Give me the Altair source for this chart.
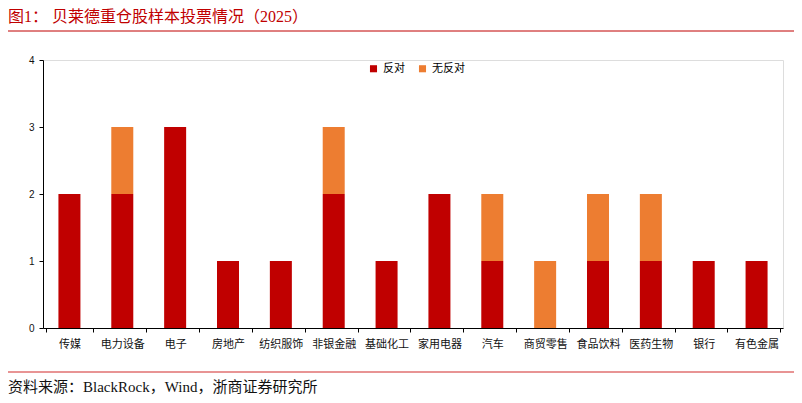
import altair as alt
import pandas as pd

# 数据
categories = ["传媒", "电力设备", "电子", "房地产", "纺织服饰", "非银金融", "基础化工",
              "家用电器", "汽车", "商贸零售", "食品饮料", "医药生物", "银行", "有色金属"]
oppose = [2, 2, 3, 1, 1, 2, 1, 2, 1, 0, 1, 1, 1, 1]
no_oppose = [0, 1, 0, 0, 0, 1, 0, 0, 1, 1, 1, 1, 0, 0]
series = ["反对", "无反对"]
colors = ["#c00000", "#ed7d31"]

rows = []
for c, a, b in zip(categories, oppose, no_oppose):
    rows.append({"行业": c, "类型": "反对", "数量": a, "顺序": 0})
    rows.append({"行业": c, "类型": "无反对", "数量": b, "顺序": 1})
df = pd.DataFrame(rows)

CJK = "Liberation Serif, Noto Sans CJK SC"

bars = alt.Chart(df).mark_bar(width=22).encode(
    x=alt.X("行业:N", sort=categories, title=None,
            axis=alt.Axis(labelAngle=0, tickBand="extent", labelFont=CJK, labelFontSize=11,
                          labelColor="#111", domainColor="#000", tickColor="#000",
                          tickSize=4, labelPadding=6)),
    y=alt.Y("数量:Q", stack="zero", title=None,
            scale=alt.Scale(domain=[0, 4]),
            axis=alt.Axis(values=[0, 1, 2, 3, 4], grid=False, labelFont="Liberation Sans",
                          labelFontSize=10, labelColor="#111", domainColor="#000",
                          tickColor="#000", tickSize=4, labelPadding=5)),
    color=alt.Color("类型:N", scale=alt.Scale(domain=series, range=colors),
                    legend=alt.Legend(title=None, orient="none", legendX=325, legendY=3,
                                      direction="horizontal", symbolType="square",
                                      symbolSize=50, labelFont=CJK, labelFontSize=11,
                                      columnPadding=12, symbolStrokeWidth=0)),
    order=alt.Order("顺序:Q"),
)

# 标题与来源
title = alt.Chart(pd.DataFrame({"t": ["图1：  贝莱德重仓股样本投票情况（2025）"]})).mark_text(
    align="left", baseline="middle", font=CJK, fontSize=16, color="#c00000"
).encode(x=alt.value(-35), y=alt.value(-43), text="t:N")

top_line = alt.Chart(pd.DataFrame({"v": [0]})).mark_rule(color="#c00000", strokeWidth=1).encode(
    x=alt.value(-35), x2=alt.value(757), y=alt.value(-29))

foot_line = alt.Chart(pd.DataFrame({"v": [0]})).mark_rule(color="#e07070", strokeWidth=1.5).encode(
    x=alt.value(-35), x2=alt.value(757), y=alt.value(44 + 268))

footer = alt.Chart(pd.DataFrame({"t": ["资料来源：BlackRock，Wind，浙商证券研究所"]})).mark_text(
    align="left", baseline="middle", font=CJK, fontSize=15, color="#111"
).encode(x=alt.value(-35), y=alt.value(327), text="t:N")

chart = alt.layer(bars, title, top_line, foot_line, footer).properties(
    width=740, height=268,
    autosize=alt.AutoSizeParams(type="none"),
    padding={"left": 35, "top": 52, "right": 11, "bottom": 67},
).configure_view(stroke=None).configure(background="white")

chart.save("out.html", embed_options={"renderer": "svg", "actions": False})
